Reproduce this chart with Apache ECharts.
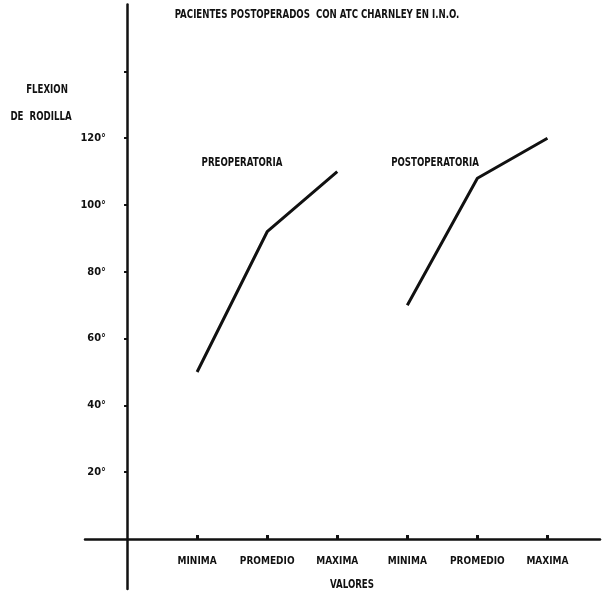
<!DOCTYPE html>
<html>
<head>
<meta charset="utf-8">
<script src="https://cdn.jsdelivr.net/npm/echarts@6/dist/echarts.min.js"></script>
<style>html,body{margin:0;padding:0;background:#fff}#c{width:602px;height:593px}</style>
</head>
<body>
<div id="c"></div>
<script>
const categories = ['MINIMA', 'PROMEDIO', 'MAXIMA', 'MINIMA', 'PROMEDIO', 'MAXIMA'];
const preoperatoria = [50, 92, 110];
const postoperatoria = [70, 108, 120];
const yTickLabels = [20, 40, 60, 80, 100, 120];
const yTickMarks = [20, 40, 60, 80, 100, 120, 140];
const titleText = 'PACIENTES POSTOPERADOS  CON ATC CHARNLEY EN I.N.O.';

const FONT = '"DejaVu Sans Condensed", "Liberation Sans Narrow", sans-serif';
const catPos = categories.map((_, i) => i + 1);
const preData = preoperatoria.map((v, i) => [catPos[i], v]);
const postData = postoperatoria.map((v, i) => [catPos[i + 3], v]);

function txt(text, x, y) {
  return {
    type: 'text', x: x, y: y, scaleX: 0.8, z: 10,
    style: { text: text, font: 'bold 12px ' + FONT, fill: '#111', textAlign: 'center', textVerticalAlign: 'middle' }
  };
}

const chart = echarts.init(document.getElementById('c'));
chart.setOption({
  backgroundColor: '#fff',
  animation: false,
  grid: { left: 85, right: 2, top: 4.6, bottom: 3.9, outerBoundsMode: 'none', containLabel: false },
  xAxis: {
    type: 'value', min: -0.6, max: 6.75,
    splitLine: { show: false },
    axisLine: { onZero: true, lineStyle: { color: '#111', width: 2.5 } },
    axisTick: { show: true, inside: true, length: 4, customValues: catPos, lineStyle: { color: '#111', width: 3 } },
    axisLabel: {
      customValues: catPos, margin: -33,
      formatter: v => categories[Math.round(v) - 1] || '',
      fontFamily: FONT, fontSize: 10, fontWeight: 'bold', color: '#111'
    }
  },
  yAxis: {
    type: 'value', min: -15, max: 160,
    splitLine: { show: false },
    axisLine: { onZero: true, lineStyle: { color: '#111', width: 2.5 } },
    axisTick: { show: true, length: 3, customValues: yTickMarks, lineStyle: { color: '#111', width: 2 } },
    axisLabel: {
      customValues: yTickLabels, margin: -21,
      formatter: v => v + '°',
      fontFamily: FONT, fontSize: 11, fontWeight: 'bold', color: '#111'
    }
  },
  graphic: [
    txt(titleText, 317, 15),
    txt('FLEXION', 47, 90),
    txt('DE  RODILLA', 41, 117),
    txt('PREOPERATORIA', 242, 163),
    txt('POSTOPERATORIA', 435, 163),
    txt('VALORES', 352, 585)
  ],
  series: [
    { name: 'PREOPERATORIA', type: 'line', data: preData, showSymbol: false, lineStyle: { color: '#111', width: 3 } },
    { name: 'POSTOPERATORIA', type: 'line', data: postData, showSymbol: false, lineStyle: { color: '#111', width: 3 } }
  ]
});
</script>
</body>
</html>
